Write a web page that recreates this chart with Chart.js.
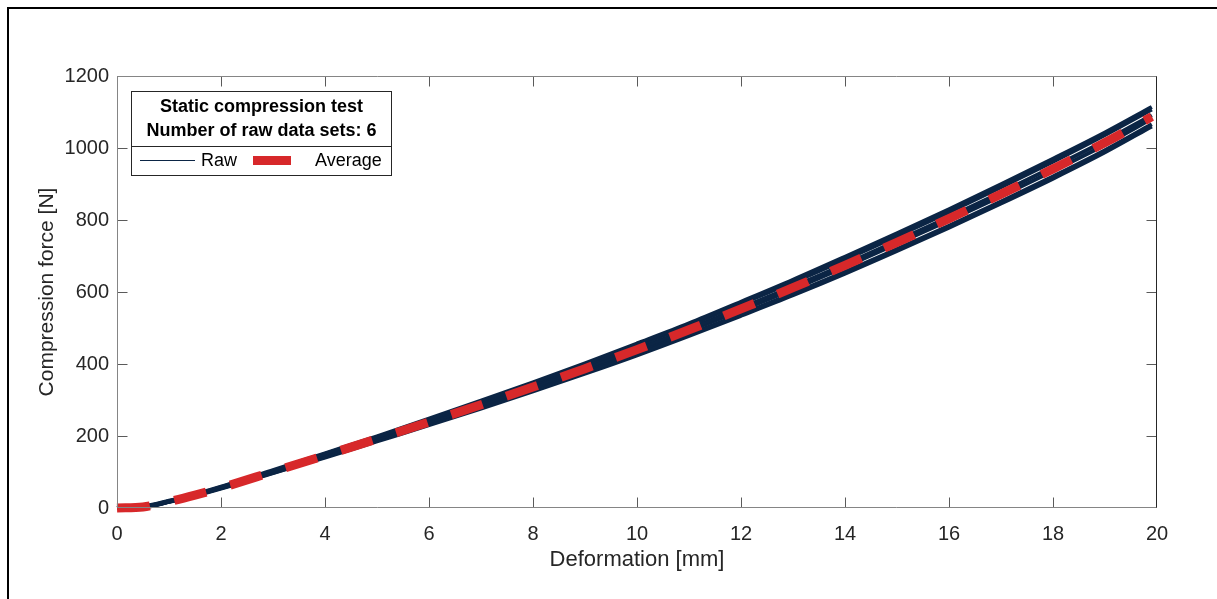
<!DOCTYPE html>
<html>
<head>
<meta charset="utf-8">
<script src="https://cdn.jsdelivr.net/npm/chart.js@4.4.1/dist/chart.umd.min.js"></script>
<style>
    html, body { margin: 0; padding: 0; background: #fff; overflow: hidden; }
</style>
</head>
<body>
<canvas id="chart" width="1217" height="599"></canvas>
<script>
// deformation [mm] shared by all series
const deformation = [0, 0.5, 1, 1.5, 2, 3, 4, 5, 6, 7, 8, 9, 10, 11, 12, 13, 14, 15, 16, 17, 18, 19, 19.9];

// six raw compression runs [N]
const raw1 = [0, 4, 20, 38, 59, 105, 152, 199, 248, 298, 349, 402, 457, 513, 573, 634, 698, 763, 830, 899, 970, 1043, 1114];
const raw2 = [0, 3, 19, 37, 58, 103, 150, 197, 245, 294, 345, 397, 451, 507, 567, 627, 690, 755, 822, 891, 962, 1036, 1107];
const raw3 = [0, 2, 18, 36, 56, 101, 147, 193, 240, 288, 338, 389, 442, 497, 556, 615, 677, 742, 808, 876, 947, 1020, 1091];
const raw4 = [0, 3, 18, 36, 56, 100, 145, 191, 237, 285, 334, 385, 437, 492, 549, 608, 670, 734, 799, 866, 936, 1009, 1081];
const raw5 = [0, 3, 17, 35, 55, 98, 142, 187, 233, 279, 327, 377, 428, 482, 538, 596, 656, 719, 784, 851, 921, 994, 1066];
const raw6 = [0, 2, 17, 34, 54, 97, 140, 185, 230, 276, 324, 373, 424, 478, 534, 591, 651, 714, 779, 846, 915, 988, 1060];

// average of the runs [N]
const averageForce = [0, 3, 18, 36, 56, 101, 146, 192, 239, 287, 336, 387, 440, 495, 553, 612, 674, 738, 804, 872, 942, 1015, 1087];

const xTicks = [0, 2, 4, 6, 8, 10, 12, 14, 16, 18, 20];
const yTicks = [0, 200, 400, 600, 800, 1000, 1200];

const legendTitle = ["Static compression test", "Number of raw data sets: 6"];
const seriesNames = ["Raw", "Average"];

const FONT = '"Liberation Sans", Arial, Helvetica, sans-serif';
const RAW_COLOR = "#0b2545";
const AVG_COLOR = "#d7282a";

const rawSeries = [raw1, raw2, raw3, raw4, raw5, raw6];
const toPoints = (arr) => arr.map((f, i) => ({ x: deformation[i], y: f }));

// outer frame, axes box, inward ticks and legend box (MATLAB look)
const matlabBox = {
    id: "matlabBox",
    beforeDraw(chart) {
        const ctx = chart.ctx;
        ctx.save();
        ctx.fillStyle = "#fff";
        ctx.fillRect(0, 0, chart.width, chart.height);
        ctx.strokeStyle = "#000";
        ctx.lineWidth = 2;
        ctx.beginPath();
        ctx.moveTo(8, chart.height);
        ctx.lineTo(8, 8);
        ctx.lineTo(chart.width, 8);
        ctx.stroke();
        ctx.restore();
    },
    afterDatasetsDraw(chart) {
        const { ctx, chartArea: a, scales } = chart;
        const L = Math.round(a.left) + 0.5, R = Math.round(a.right) - 0.5;
        const T = Math.round(a.top) + 0.5, B = Math.round(a.bottom) - 0.5;
        ctx.save();
        ctx.lineWidth = 1;

        // ticks
        ctx.strokeStyle = "#5a5a5a";
        ctx.beginPath();
        xTicks.forEach((v) => {
            const px = Math.min(Math.round(scales.x.getPixelForValue(v)) + 0.5, R);
            ctx.moveTo(px, B); ctx.lineTo(px, B - 10);
            ctx.moveTo(px, T); ctx.lineTo(px, T + 10);
        });
        yTicks.forEach((v) => {
            const py = Math.min(Math.round(scales.y.getPixelForValue(v)) + 0.5, B);
            ctx.moveTo(L, py); ctx.lineTo(L + 10, py);
            ctx.moveTo(R, py); ctx.lineTo(R - 10, py);
        });
        ctx.stroke();

        // box
        ctx.strokeStyle = "#858585";
        ctx.beginPath();
        ctx.moveTo(L, T); ctx.lineTo(L, B); ctx.lineTo(R, B);
        ctx.moveTo(L, T); ctx.lineTo(R, T);
        ctx.stroke();
        ctx.strokeStyle = "#262626";
        ctx.beginPath();
        ctx.moveTo(R, T); ctx.lineTo(R, B);
        ctx.stroke();
        ctx.restore();
    },
    afterDraw(chart) {
        const ctx = chart.ctx;
        const bx = 131.5, by = 91.5, bw = 260, bh = 84;
        ctx.save();
        ctx.fillStyle = "#fff";
        ctx.fillRect(bx, by, bw, bh);
        ctx.strokeStyle = "#262626";
        ctx.lineWidth = 1;
        ctx.strokeRect(bx, by, bw, bh);
        ctx.beginPath();
        ctx.moveTo(bx, 146.5); ctx.lineTo(bx + bw, 146.5);
        ctx.stroke();

        ctx.fillStyle = "#000";
        ctx.textAlign = "center";
        ctx.textBaseline = "middle";
        ctx.font = "bold 18px " + FONT;
        ctx.fillText(legendTitle[0], bx + bw / 2, 107);
        ctx.fillText(legendTitle[1], bx + bw / 2, 131);

        // entries
        ctx.strokeStyle = RAW_COLOR;
        ctx.beginPath();
        ctx.moveTo(140, 160.5); ctx.lineTo(195, 160.5);
        ctx.stroke();
        ctx.fillStyle = AVG_COLOR;
        ctx.fillRect(253, 156, 38, 9);

        ctx.fillStyle = "#000";
        ctx.textAlign = "left";
        ctx.font = "18px " + FONT;
        ctx.fillText(seriesNames[0], 201, 161);
        ctx.fillText(seriesNames[1], 315, 161);
        ctx.restore();
    }
};

new Chart(document.getElementById("chart"), {
    type: "line",
    data: {
        datasets: [
            {
                label: seriesNames[1],
                data: toPoints(averageForce),
                borderColor: AVG_COLOR,
                borderWidth: 9,
                borderDash: [33, 25],
                pointRadius: 0,
                cubicInterpolationMode: "monotone",
                order: 0,
                clip: false,
            },
            ...rawSeries.map((r) => ({
                label: seriesNames[0],
                data: toPoints(r),
                borderColor: RAW_COLOR,
                borderWidth: 4,
                pointRadius: 0,
                cubicInterpolationMode: "monotone",
                order: 1,
                clip: false,
            })),
        ],
    },
    options: {
        responsive: false,
        animation: false,
        devicePixelRatio: 1,
        layout: { padding: { top: 76, right: 60, left: 0, bottom: 0 } },
        plugins: {
            legend: { display: false },
            tooltip: { enabled: false },
        },
        scales: {
            x: {
                type: "linear",
                min: 0,
                max: 20,
                grid: { display: false, drawTicks: false },
                border: { display: false },
                afterBuildTicks: (s) => { s.ticks = xTicks.map((v) => ({ value: v })); },
                afterFit: (s) => { s.height = 91; },
                ticks: {
                    padding: 14,
                    color: "#262626",
                    font: { family: FONT, size: 20 },
                    maxRotation: 0,
                    autoSkip: false,
                    callback: (v) => String(v),
                },
                title: {
                    display: true,
                    text: "Deformation [mm]",
                    color: "#262626",
                    font: { family: FONT, size: 22 },
                    padding: { top: 0, bottom: 26 },
                },
            },
            y: {
                type: "linear",
                min: 0,
                max: 1200,
                grid: { display: false, drawTicks: false },
                border: { display: false },
                afterBuildTicks: (s) => { s.ticks = yTicks.map((v) => ({ value: v })); },
                afterFit: (s) => { s.width = 117; },
                ticks: {
                    padding: 8,
                    color: "#262626",
                    font: { family: FONT, size: 20 },
                    autoSkip: false,
                    callback: (v) => String(v),
                },
                title: {
                    display: true,
                    text: "Compression force [N]",
                    color: "#262626",
                    font: { family: FONT, size: 21 },
                    padding: { top: 35, bottom: 0 },
                },
            },
        },
    },
    plugins: [matlabBox],
});
</script>
</body>
</html>
